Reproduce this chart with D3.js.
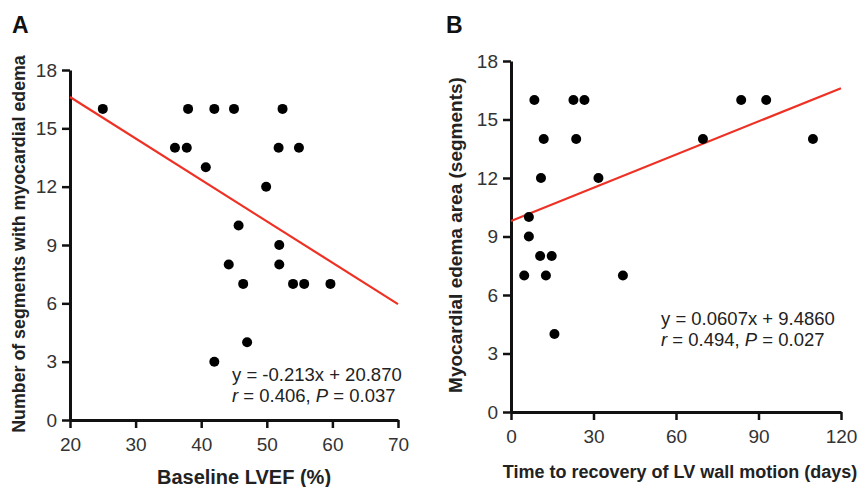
<!DOCTYPE html>
<html>
<head>
<meta charset="utf-8">
<script src="https://cdn.jsdelivr.net/npm/d3@7"></script>
<style>
  body { margin: 0; background: #fff; }
  svg { font-family: "Liberation Sans", Arial, sans-serif; }
</style>
</head>
<body>
<div id="chart"></div>
<script>
// Panel A data: baseline LVEF (%) vs number of segments with edema
const lvef = [25, 38, 42, 45, 52.4, 36, 37.8, 51.8, 54.9, 40.7, 49.9, 45.7, 51.9, 44.2, 51.9, 46.4, 54, 55.7, 59.7, 47, 42];
const segA = [16, 16, 16, 16, 16, 14, 14, 14, 14, 13, 12, 10, 9, 8, 8, 7, 7, 7, 7, 4, 3];
const fitA = { slope: -0.213, intercept: 20.870 };

// Panel B data: days to recovery vs edema area (segments)
const days = [8.5, 22.7, 26.7, 83.7, 92.8, 11.9, 23.7, 69.8, 109.8, 10.9, 31.8, 6.5, 6.5, 10.6, 14.8, 4.8, 12.7, 40.7, 15.8];
const segB = [16, 16, 16, 16, 16, 14, 14, 14, 14, 12, 12, 10, 9, 8, 8, 7, 7, 7, 4];
// line as drawn in the figure (slightly off the printed equation)
const fitB = { slope: 0.0567, intercept: 9.8 };

const yTicks = [0, 3, 6, 9, 12, 15, 18];
const xTicksA = [20, 30, 40, 50, 60, 70];
const xTicksB = [0, 30, 60, 90, 120];

const width = 862, height = 487;

const svg = d3.select("#chart")
    .append("svg")
    .attr("width", width)
    .attr("height", height);

function panel(opts) {
    const x = d3.scaleLinear().domain(opts.xDomain).range([opts.left, opts.right]);
    const y = d3.scaleLinear().domain([0, 18]).range([opts.bottom, opts.top]);
    const g = svg.append("g");

    // axes
    const xAxis = g.append("g")
        .attr("transform", `translate(0,${opts.bottom})`)
        .call(d3.axisBottom(x).tickValues(opts.xTicks).tickSize(8).tickPadding(6).tickSizeOuter(0));
    const yAxis = g.append("g")
        .attr("transform", `translate(${opts.left},0)`)
        .call(d3.axisLeft(y).tickValues(yTicks).tickSize(8).tickPadding(5).tickSizeOuter(0));

    [xAxis, yAxis].forEach(a => {
        a.select(".domain").attr("stroke", "#111").attr("stroke-width", 3);
        a.selectAll(".tick line").attr("stroke", "#111").attr("stroke-width", 2.5);
        a.selectAll(".tick text")
            .attr("fill", "#333")
            .style("font-size", "19px");
    });
    xAxis.selectAll(".tick text").attr("dy", "0.9em");

    // regression line
    const x0 = opts.xDomain[0], x1 = opts.xDomain[1];
    g.append("line")
        .attr("x1", x(x0)).attr("y1", y(opts.fit.slope * x0 + opts.fit.intercept))
        .attr("x2", x(x1)).attr("y2", y(opts.fit.slope * x1 + opts.fit.intercept))
        .attr("stroke", "#ee3124")
        .attr("stroke-width", 2.2);

    // points
    g.selectAll("circle")
        .data(opts.xs.map((d, i) => [d, opts.ys[i]]))
        .enter().append("circle")
        .attr("cx", d => x(d[0]))
        .attr("cy", d => y(d[1]))
        .attr("r", 5)
        .attr("fill", "#000");

    // panel letter
    g.append("text")
        .attr("x", opts.letterX).attr("y", 33)
        .attr("font-weight", "bold")
        .attr("font-size", 23)
        .attr("fill", "#111")
        .text(opts.letter);

    // axis titles
    g.append("text")
        .attr("x", (opts.left + opts.right) / 2 + opts.xTitleShift)
        .attr("y", opts.xTitleY)
        .attr("text-anchor", "middle")
        .attr("font-weight", "bold")
        .attr("font-size", opts.xTitleSize)
        .attr("fill", "#222")
        .text(opts.xTitle);

    g.append("text")
        .attr("transform", `translate(${opts.yTitleX},${opts.yTitleY}) rotate(-90)`)
        .attr("text-anchor", "middle")
        .attr("font-weight", "bold")
        .attr("font-size", opts.yTitleSize)
        .attr("fill", "#222")
        .text(opts.yTitle);

    // equation text
    const eq = g.append("text")
        .attr("x", opts.eqX).attr("y", opts.eqY)
        .attr("font-size", 18.5)
        .attr("fill", "#222");
    eq.append("tspan").text(opts.eq);
    const stat = g.append("text")
        .attr("x", opts.eqX).attr("y", opts.eqY + 21)
        .attr("font-size", 18.5)
        .attr("fill", "#222");
    stat.append("tspan").attr("font-style", "italic").text("r");
    stat.append("tspan").text(` = ${opts.r}, `);
    stat.append("tspan").attr("font-style", "italic").text("P");
    stat.append("tspan").text(` = ${opts.p}`);
}

panel({
    xs: lvef, ys: segA, fit: fitA,
    xDomain: [20, 70], xTicks: xTicksA,
    left: 70, right: 398, top: 70, bottom: 420,
    letter: "A", letterX: 12,
    xTitle: "Baseline  LVEF (%)", xTitleY: 484, xTitleShift: 10, xTitleSize: 20,
    yTitle: "Number of segments with myocardial edema", yTitleX: 25, yTitleY: 244, yTitleSize: 17.8,
    eq: "y = -0.213x + 20.870", r: "0.406", p: "0.037", eqX: 232, eqY: 381
});

panel({
    xs: days, ys: segB, fit: fitB,
    xDomain: [0, 120], xTicks: xTicksB,
    left: 511, right: 841, top: 61, bottom: 412,
    letter: "B", letterX: 446,
    xTitle: "Time to recovery of LV wall motion (days)", xTitleY: 478, xTitleShift: 4, xTitleSize: 18,
    yTitle: "Myocardial  edema area (segments)", yTitleX: 462, yTitleY: 235, yTitleSize: 19,
    eq: "y = 0.0607x + 9.4860", r: "0.494", p: "0.027", eqX: 661, eqY: 325
});
</script>
</body>
</html>
